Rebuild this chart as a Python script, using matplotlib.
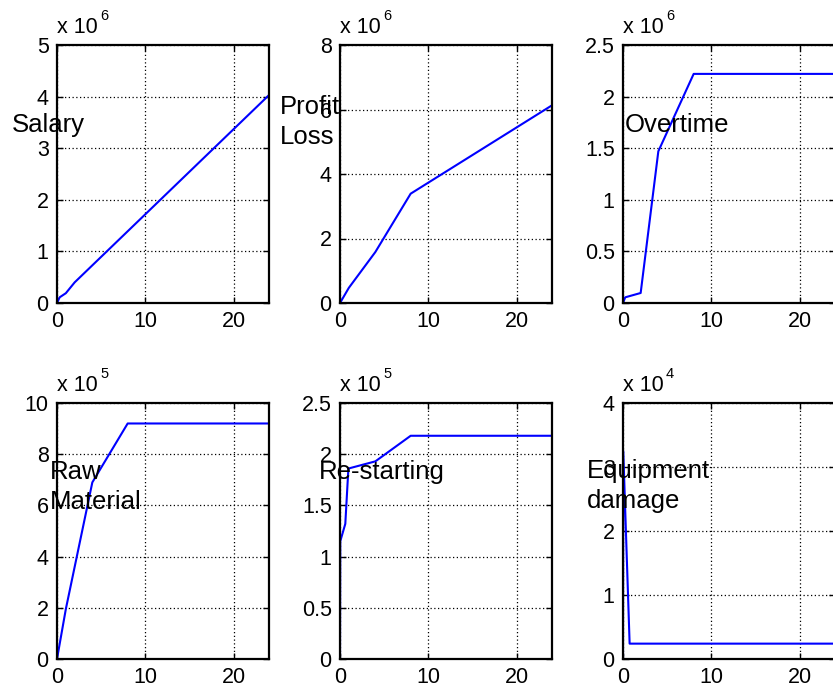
import matplotlib.pyplot as plt

plt.switch_backend("Agg")
plt.rcParams["font.family"] = ["Liberation Sans", "DejaVu Sans"]

# --- data ---
salary_x = [0, 0.3, 1, 2, 24]
salary_y = [0, 0.11e6, 0.19e6, 0.40e6, 4.03e6]

profit_x = [0, 1, 4, 8, 24]
profit_y = [0, 0.47e6, 1.58e6, 3.39e6, 6.13e6]

overtime_x = [0, 0.25, 2, 4, 8, 24]
overtime_y = [0, 0.055e6, 0.097e6, 1.47e6, 2.22e6, 2.22e6]

raw_x = [0, 1, 4, 8, 24]
raw_y = [0, 1.95e5, 6.9e5, 9.2e5, 9.2e5]

restart_x = [0, 0.03, 0.6, 0.95, 4, 8, 24]
restart_y = [0, 1.15e5, 1.32e5, 1.86e5, 1.93e5, 2.18e5, 2.18e5]

equip_x = [0, 0.03, 0.75, 24]
equip_y = [0, 3.25e4, 0.24e4, 0.24e4]

x_ticks = [0, 10, 20]

# series, ylabel, exponent, y ticks, label position (fig px)
panels = [
    (salary_x, salary_y, "Salary", 6, [0, 1, 2, 3, 4, 5], (12, 125)),
    (profit_x, profit_y, "Profit\nLoss", 6, [0, 2, 4, 6, 8], (280, 122)),
    (overtime_x, overtime_y, "Overtime", 6, [0, 0.5, 1, 1.5, 2, 2.5], (625, 125)),
    (raw_x, raw_y, "Raw\nMaterial", 5, [0, 2, 4, 6, 8, 10], (50, 487)),
    (restart_x, restart_y, "Re-starting", 5, [0, 0.5, 1, 1.5, 2, 2.5], (319, 472)),
    (equip_x, equip_y, "Equipment\ndamage", 4, [0, 1, 2, 3, 4], (587, 486)),
]

W, H = 833, 698
fig = plt.figure(figsize=(W / 100, H / 100), dpi=100)

lefts = [57, 340, 623]
rows = [(45, 303), (403, 659)]

for i, (xs, ys, label, expo, yt, (lx, ly)) in enumerate(panels):
    r, c = divmod(i, 3)
    top, bot = rows[r]
    ax = fig.add_axes([lefts[c] / W, (H - bot) / H, 212 / W, (bot - top) / H])
    scale = 10.0 ** expo
    ax.plot(xs, [v / scale for v in ys], color=(0, 0, 1), lw=1.5)
    ax.set_xlim(0, 24)
    ax.set_ylim(yt[0], yt[-1])
    ax.set_xticks(x_ticks)
    ax.set_xticklabels([f"{t:g}" for t in x_ticks])
    ax.set_yticks(yt)
    ax.set_yticklabels([f"{t:g}" for t in yt])
    ax.grid(True, color="black", linestyle=(0, (1, 2)), linewidth=0.9)
    ax.tick_params(direction="in", labelsize=15.5, length=4, width=1, pad=6,
                   top=True, right=True)
    for s in ax.spines.values():
        s.set_linewidth(1.6)
    # MATLAB style exponent above the axes
    ax.annotate("x 10", xy=(0, 1), xycoords="axes fraction", xytext=(0, 8.5),
                textcoords="offset points", fontsize=15.5, ha="left", va="baseline")
    ax.annotate(str(expo), xy=(0, 1), xycoords="axes fraction", xytext=(31, 18),
                textcoords="offset points", fontsize=10.5, ha="left", va="baseline")
    fig.text(lx / W, 1 - ly / H, label, fontsize=18.5, ha="left", va="center",
             linespacing=1.3)

fig.savefig("out.png", dpi=100)
